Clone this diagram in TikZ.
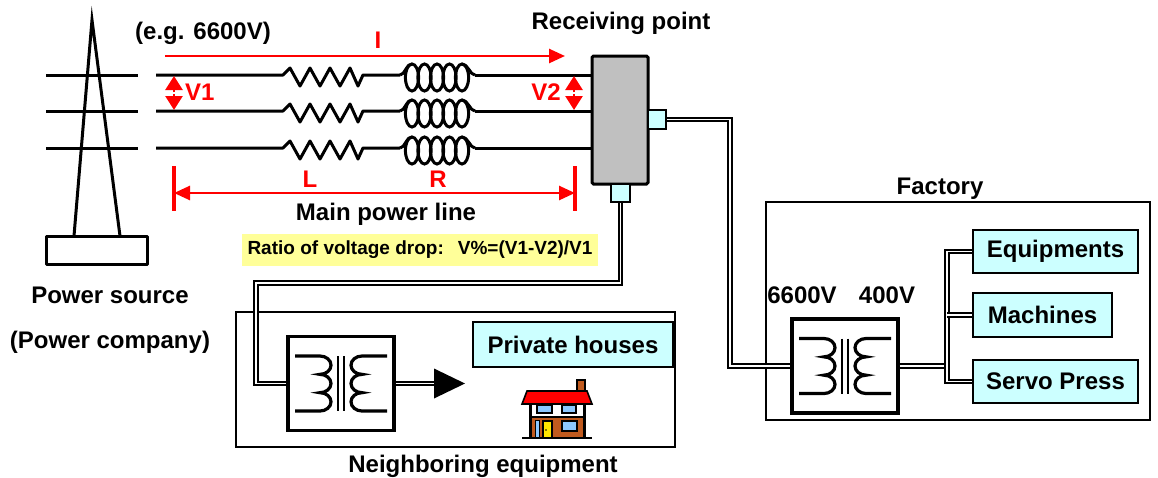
\documentclass[tikz,border=0pt]{standalone}
\usepackage{fontspec}
\setmainfont{Liberation Sans}
\usetikzlibrary{arrows.meta,calc}
\definecolor{boxcyan}{RGB}{204,255,255}
\definecolor{notegold}{RGB}{255,255,153}
\definecolor{rpgray}{RGB}{192,192,192}
\definecolor{pwred}{RGB}{255,0,0}
\definecolor{wallbrown}{RGB}{192,90,30}
\definecolor{glassblue}{RGB}{140,200,255}
\definecolor{dooryellow}{RGB}{255,230,0}

\begin{document}
\begin{tikzpicture}[x=1pt,y=1pt,
  lbl/.style={font=\fontsize{24}{28}\selectfont\bfseries, inner sep=0pt, anchor=base},
  wire/.style={line width=3pt, line join=round},
  redline/.style={draw=pwred, line width=2.6pt},
  redtip/.style={-{Triangle[length=16pt,width=14pt]}},
  vtip/.style={-{Triangle[length=14pt,width=17pt]}},
  cable/.style={draw, line width=2pt, double=white, double distance=1.2pt},
  cyanbox/.style={draw, line width=2.6pt, fill=boxcyan, inner sep=0pt,
    font=\fontsize{24}{28}\selectfont\bfseries},
  xfbox/.style={draw, line width=3.5pt, fill=white, minimum width=106pt,
    minimum height=94pt, inner sep=0pt},
  frame/.style={draw, line width=2pt, inner sep=0pt},
  winding/.pic={
    \draw[line width=3.2pt] (-46,27.5) -- (-21,27.5)
      arc[start angle=90, end angle=-90, x radius=11, y radius=9.1667]
      arc[start angle=90, end angle=-90, x radius=11, y radius=9.1667]
      arc[start angle=90, end angle=-90, x radius=11, y radius=9.1667]
      -- (-46,-27.5);
    \draw[line width=3.2pt] (46,27.5) -- (21,27.5)
      arc[start angle=90, end angle=270, x radius=11, y radius=9.1667]
      arc[start angle=90, end angle=270, x radius=11, y radius=9.1667]
      arc[start angle=90, end angle=270, x radius=11, y radius=9.1667]
      -- (46,-27.5);
    \draw[line width=2.6pt] (-3,27.5) -- (-3,-27.5) (3,27.5) -- (3,-27.5);
  },
  coilpic/.pic={
    \draw[line width=3pt] (0,0) .. controls (5,0) and (6,11) .. (12,11);
    \foreach \cx in {12,24.5,37,49.5,62}
      \draw[line width=3pt] (\cx,-2.5) ellipse[x radius=6.6, y radius=13.5];
    \draw[line width=3pt] (62,11) .. controls (68,11) and (70,0) .. (75,0);
  },
]
\useasboundingbox (0,0) rectangle (1158,-477);

% ---------------- power source tower ----------------
\draw[wire, line join=miter] (74,-236) -- (92,-20) -- (120,-236);
\draw[wire] (46,-236) rectangle (147,-264);
\foreach \y in {75,111,148} \draw[wire] (46,-\y) -- (138,-\y);

% ---------------- receiving point ----------------
\node[draw, line width=3pt, fill=rpgray, rounded corners=1.5pt, minimum width=56pt,
  minimum height=128pt, inner sep=0pt] (rp) at (620,-120) {};
\node[draw, line width=2.5pt, fill=boxcyan, minimum width=18pt, minimum height=19pt,
  inner sep=0pt] (sqr) at (657,-119.5) {};
\node[draw, line width=2.5pt, fill=boxcyan, minimum width=19pt, minimum height=18pt,
  inner sep=0pt] (sqb) at (620.5,-193) {};

% ---------------- three-phase line with L and R ----------------
\foreach \y in {75,111,148} {
  \coordinate (ws) at (156,-\y);
  \draw[wire] (ws) -- (283,-\y) -- ++(7,7) -- ++(10,-18) -- ++(10,18) -- ++(10,-18)
    -- ++(10,18) -- ++(10,-18) -- ++(10,18) -- ++(8,-18) -- ++(5,11) -- (400,-\y);
  \pic at (400,-\y) {coilpic};
  \draw[wire] (475,-\y) -- (rp.west |- ws);
}

% ---------------- red annotations ----------------
\draw[redline, redtip] (165,-56) -- (565,-56);
\node[lbl, text=pwred] (ilbl) at (378,-48) {I};
\draw[redline, vtip] (174,-92) -- (174,-76);
\draw[redline, vtip] (174,-94) -- (174,-110);
\node[lbl, text=pwred, anchor=base west] (v1) at (185,-100) {V1};
\draw[redline, vtip] (574,-92) -- (574,-76);
\draw[redline, vtip] (574,-94) -- (574,-110);
\node[lbl, text=pwred, anchor=base east] (v2) at (561,-100) {V2};
\coordinate (dl) at (174,-193);
\coordinate (dr) at (575,-193);
\draw[redline, {Triangle[length=16pt,width=14pt]}-{Triangle[length=16pt,width=14pt]}]
  (dl) -- (dr);
\draw[redline, line width=3.5pt] ($(dl)+(0,27)$) -- ($(dl)+(0,-18)$);
\draw[redline, line width=3.5pt] ($(dr)+(0,27)$) -- ($(dr)+(0,-18)$);
\node[lbl, text=pwred] (llbl) at (310,-187) {L};
\node[lbl, text=pwred] (rlbl) at (438,-187) {R};

% ---------------- texts ----------------
\node[lbl] (eg) at (203,-39) {(e.g. 6600V)};
\node[lbl] (rptxt) at (621,-29) {Receiving point};
\node[lbl] (mpl) at (386,-220) {Main power line};
\node[lbl] (ps) at (110,-303) {Power source};
\node[lbl] (pc) at (110,-348) {(Power company)};
\node[lbl] (factxt) at (940,-194) {Factory};
\node[lbl] (hv) at (802,-303) {6600V};
\node[lbl] (lv) at (887,-303) {400V};
\node[lbl] (nbtxt) at (483,-472) {Neighboring equipment};

\node[fill=notegold, minimum width=356pt, minimum height=32pt, inner sep=0pt,
  font=\fontsize{19}{22}\selectfont\bfseries] (note) at (420,-250)
  {Ratio of voltage drop:\hspace{14pt}V\%=(V1-V2)/V1};

% ---------------- frames ----------------
\node[frame, minimum width=384pt, minimum height=218pt] (fac) at (958,-311) {};
\node[frame, minimum width=439pt, minimum height=135pt] (nb) at (455.5,-379.5) {};

% ---------------- transformers and loads ----------------
\node[xfbox] (nt) at (341,-383.5) {};
\pic at (nt.center) {winding};
\node[xfbox] (ft) at (845,-366) {};
\pic at (ft.center) {winding};

\node[cyanbox, minimum width=200pt, minimum height=45pt] (ph) at (573,-344.5) {Private houses};
\node[cyanbox, minimum width=165pt, minimum height=43pt] (eq) at (1055.5,-251.5) {Equipments};
\node[cyanbox, minimum width=139pt, minimum height=44pt] (mc) at (1042.5,-315) {Machines};
\node[cyanbox, minimum width=165pt, minimum height=43pt] (sp) at (1055.5,-381.5) {Servo Press};

% ---------------- cables ----------------
\coordinate (k1) at (730,-366);
\draw[cable] (sqr.east) -| (k1) -- (ft.west);
\coordinate (k2) at (256,-283);
\draw[cable] (sqb.south) |- (k2) |- (nt.west);
\coordinate (bus) at (947,-366);
\draw[cable] (ft.east) -- (bus);
\draw[cable] (eq.west) -| (bus |- sp.west) -- (sp.west);
\draw[cable] (mc.west) -- (bus |- mc.west);
\coordinate (ah) at (434,-383.5);
\draw[cable] (nt.east) -- ($(ah)+(2,0)$);
\fill ($(ah)+(0,15)$) -- ++(31,-15) -- ++(-31,-15) -- cycle;

% ---------------- house ----------------
\filldraw[fill=wallbrown, line width=1.2pt] (577,-380) rectangle (585,-393);
\filldraw[fill=white, line width=1.6pt] (530,-403) rectangle (584,-417);
\filldraw[fill=wallbrown, line width=1.6pt] (530,-417) rectangle (584,-438);
\filldraw[fill=pwred, line width=1.6pt] (522,-404) -- (527,-391) -- (587,-391) -- (592,-404) -- cycle;
\filldraw[fill=glassblue, line width=1.2pt] (537,-405) rectangle (552,-413);
\filldraw[fill=glassblue, line width=1.2pt] (562,-405) rectangle (576,-413);
\filldraw[fill=glassblue, line width=1.2pt] (562,-421) rectangle (577,-431);
\filldraw[fill=glassblue, line width=1pt] (535,-420) rectangle (539,-438);
\filldraw[fill=dooryellow, line width=1.2pt] (543,-421) rectangle (552,-438);
\fill (546,-430) circle (0.9);
\draw[line width=3pt] (530,-404) -- (530,-438) (584,-404) -- (584,-438);
\draw[line width=2pt] (522,-438) -- (592,-438);
\end{tikzpicture}
\end{document}
